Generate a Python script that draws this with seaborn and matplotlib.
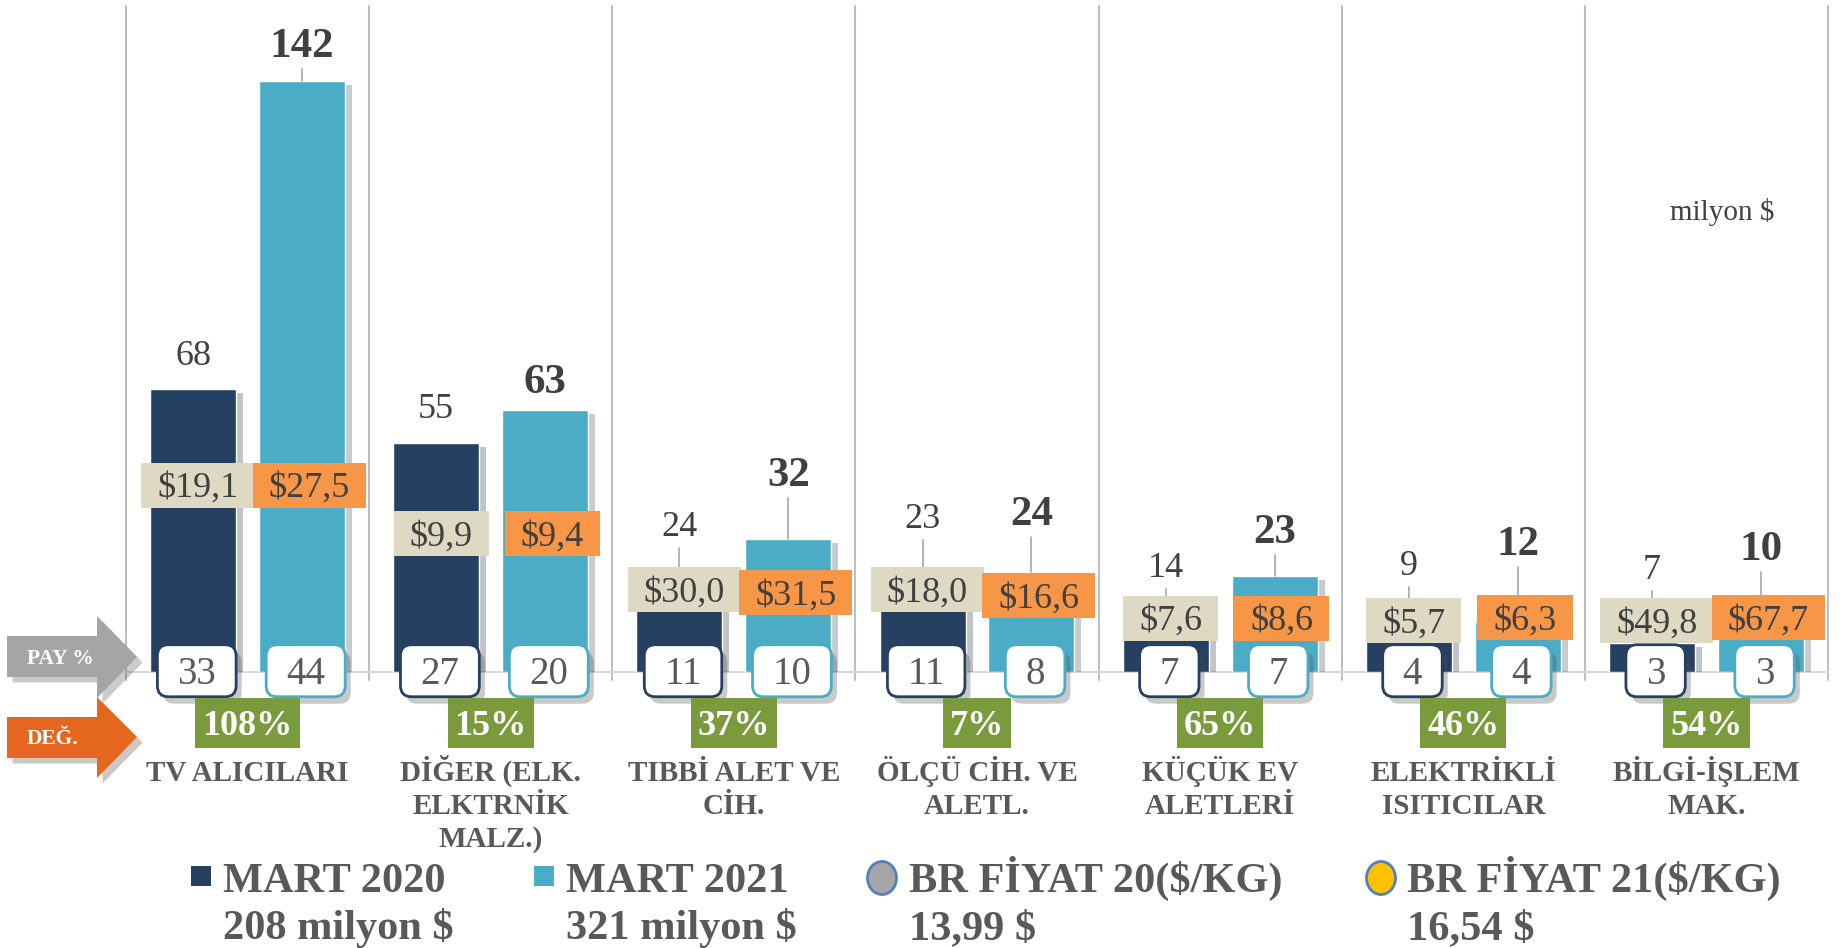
import matplotlib.pyplot as plt
import matplotlib.patheffects as pe
from matplotlib.patches import FancyBboxPatch, Rectangle, Ellipse, Polygon
import pandas as pd
import seaborn as sns

# data
categories = ["TV ALICILARI", "DİĞER (ELK.\nELKTRNİK\nMALZ.)", "TIBBİ ALET VE\nCİH.",
              "ÖLÇÜ CİH. VE\nALETL.", "KÜÇÜK EV\nALETLERİ", "ELEKTRİKLİ\nISITICILAR",
              "BİLGİ-İŞLEM\nMAK."]
mart_2020 = [68, 55, 24, 23, 14, 9, 7]
mart_2021 = [142, 63, 32, 24, 23, 12, 10]
price_2020 = [19.1, 9.9, 30.0, 18.0, 7.6, 5.7, 49.8]
price_2021 = [27.5, 9.4, 31.5, 16.6, 8.6, 6.3, 67.7]
share_2020 = [33, 27, 11, 11, 7, 4, 3]
share_2021 = [44, 20, 10, 8, 7, 4, 3]
change_pct = [108, 15, 37, 7, 65, 46, 54]
legend_names = ["MART 2020", "MART 2021", "BR FİYAT 20($/KG)", "BR FİYAT 21($/KG)"]
legend_totals = ["208 milyon $", "321 milyon $", "13,99 $", "16,54 $"]

# label placement (data units) - labels were moved by hand in the original
label_base_2020 = [73.8, 61, 32.7, 34.6, 22.8, 23.3, 22.3]
label_base_2021 = [147.8, 67, 44.7, 35.3, 31, 28.1, 26.9]
lead_2020 = [False, False, True, True, True, True, True]
lead_2021 = [True, False, True, True, True, True, True]
price_y_2020 = [44.9, 33.2, 19.7, 19.7, 12.9, 12.4, 12.4]
price_y_2021 = [44.9, 33.2, 19.0, 18.4, 12.9, 13.0, 13.0]

NAVY = "#264061"
TEAL = "#4BACC6"
BEIGE = "#DDD9C3"
ORANGE = "#F79646"
GREEN = "#7A9B3C"
TXT = "#404040"
GREY_TXT = "#595959"

sns.set_style("white")
plt.rcParams['font.family'] = ['Liberation Serif', 'DejaVu Serif']

W, H = 1841, 948
fig = plt.figure(figsize=(W / 100, H / 100), dpi=100)
ax = fig.add_axes([126 / W, (H - 672) / H, (1828 - 126) / W, 666 / H])

df = pd.DataFrame({
    'cat': categories * 2,
    'year': ['2020'] * 7 + ['2021'] * 7,
    'value': mart_2020 + mart_2021,
})
sns.barplot(data=df, x='cat', y='value', hue='year', order=categories,
            hue_order=['2020', '2021'], palette=[NAVY, TEAL], saturation=1,
            width=0.896, gap=0.21, errorbar=None, legend=False, ax=ax, zorder=2)
for p in ax.patches:
    p.set_path_effects([pe.SimplePatchShadow(offset=(5, -3), alpha=0.25), pe.Normal()])

ax.set_xlim(-0.5, 6.5)
ax.set_ylim(0, 160)
ax.set_axis_off()

# grid and baseline
for xv in [i - 0.5 for i in range(8)]:
    ax.plot([xv, xv], [-2, 160], color="#BFBFBF", lw=1.5, zorder=1, clip_on=False)
ax.plot([-0.5, 6.5], [0, 0], color="#D9D9D9", lw=1.5, zorder=1, clip_on=False)

r = fig.canvas.get_renderer()
px = ax.transData.transform((1, 0))[0] - ax.transData.transform((0, 0))[0]
py = ax.transData.transform((0, 1))[1] - ax.transData.transform((0, 0))[1]


def box_label(x, yc, s, size, tcolor, face, edge=None, lw=0, pad_px=15, h_px=48,
              weight='normal', rounded=False, z=4, shadow=False):
    em = size * 100 / 72
    t = ax.text(x, yc - 0.33 * em / py, s, ha='center', va='baseline', fontsize=size,
                fontweight=weight, color=tcolor, zorder=z + 0.1, clip_on=False)
    w = (t.get_window_extent(r).width + 2 * pad_px) / px
    h = h_px / py
    if rounded:
        box = FancyBboxPatch((x - w / 2, yc - h / 2), w, h,
                             boxstyle="round,pad=0,rounding_size=%f" % (11 / px),
                             mutation_aspect=px / py)
    else:
        box = Rectangle((x - w / 2, yc - h / 2), w, h)
    box.set(facecolor=face, edgecolor=edge if edge else face, linewidth=lw,
            zorder=z, clip_on=False)
    if shadow:
        box.set_path_effects([pe.SimplePatchShadow(offset=(4, -5), alpha=0.3), pe.Normal()])
    ax.add_patch(box)
    return box


bars20 = ax.containers[0]
bars21 = ax.containers[1]
fmt = lambda v: "$" + f"{v:.1f}".replace(".", ",")

for i in range(len(categories)):
    x0 = bars20[i].get_x() + bars20[i].get_width() / 2
    x1 = bars21[i].get_x() + bars21[i].get_width() / 2

    # value labels
    ax.text(x0, label_base_2020[i], str(mart_2020[i]), ha='center', va='baseline',
            fontsize=26, color=TXT, zorder=6)
    ax.text(x1, label_base_2021[i], str(mart_2021[i]), ha='center', va='baseline',
            fontsize=31, fontweight='bold', color=TXT, zorder=6)

    # price per kg boxes
    box_label(x0 + 0.02, price_y_2020[i], fmt(price_2020[i]), 26, TXT, BEIGE, pad_px=16, h_px=45)
    box_label(x1 + 0.03, price_y_2021[i], fmt(price_2021[i]), 26, TXT, ORANGE, pad_px=16, h_px=45)

    # leader lines
    for lead, xb, base, val, pyb in [(lead_2020[i], x0, label_base_2020[i], mart_2020[i], price_y_2020[i]),
                                     (lead_2021[i], x1, label_base_2021[i], mart_2021[i], price_y_2021[i])]:
        if lead:
            top = base - 12 / py
            end = max(val, pyb + 22.5 / py)
            if top > end:
                ax.plot([xb, xb], [top, end], color="#A6A6A6", lw=1.2, zorder=3)

    # share boxes
    box_label(x0 + 0.015, 0.3, str(share_2020[i]), 28, GREY_TXT, "white", edge=NAVY, lw=2,
              pad_px=20, h_px=52, rounded=True, z=5, shadow=True)
    box_label(x1 + 0.015, 0.3, str(share_2021[i]), 28, GREY_TXT, "white", edge=TEAL, lw=2,
              pad_px=20, h_px=52, rounded=True, z=5, shadow=True)

    # change boxes
    box_label(i, -12.25, f"{change_pct[i]}%", 26, "white", GREEN, pad_px=7, h_px=50,
              weight='bold', z=5)

    # category labels, one text per line so every baseline is even
    for k, line in enumerate(categories[i].split("\n")):
        ax.text(i, -26.2 - k * 33 / py, line, ha='center', va='baseline', fontsize=21,
                fontweight='bold', color=GREY_TXT, clip_on=False)

fx = lambda v: v / W
fy = lambda v: 1 - v / H

# side arrows
arrows = [
    ("PAY %", "#A5A5A5", 636, 677, 616, 698, 657),
    ("DEĞ.", "#E4661F", 717, 758, 697, 778, 737),
]
for label, col, b0, b1, h0, h1, tip in arrows:
    pts = [(7, b0), (97, b0), (97, h0), (137, tip), (97, h1), (97, b1), (7, b1)]
    poly = Polygon([(fx(a), fy(b)) for a, b in pts], closed=True, transform=fig.transFigure,
                   facecolor=col, edgecolor='none')
    poly.set_path_effects([pe.SimplePatchShadow(offset=(4, -4), alpha=0.25), pe.Normal()])
    fig.add_artist(poly)
    fig.text(fx(27), fy(tip + 2), label, ha='left', va='center', fontsize=15.5,
             fontweight='bold', color='white')

fig.text(fx(1670), fy(212), "milyon $", ha='left', va='center', fontsize=21, color=TXT)

# legend
fig.add_artist(Rectangle((fx(191), fy(886)), 20 / W, 20 / H, transform=fig.transFigure,
                         facecolor=NAVY, edgecolor='none'))
fig.add_artist(Rectangle((fx(534), fy(886)), 20 / W, 20 / H, transform=fig.transFigure,
                         facecolor=TEAL, edgecolor='none'))
fig.add_artist(Ellipse((fx(882), fy(878)), 29 / W, 33 / H, transform=fig.transFigure,
                       facecolor="#A6A6A6", edgecolor="#4F81BD", lw=2))
fig.add_artist(Ellipse((fx(1381), fy(878)), 29 / W, 33 / H, transform=fig.transFigure,
                       facecolor="#FFC000", edgecolor="#4F81BD", lw=2))
for xt, name, total in zip([223, 566, 909, 1407], legend_names, legend_totals):
    fig.text(fx(xt), fy(892), name, ha='left', va='baseline', fontsize=30.5,
             fontweight='bold', color=GREY_TXT)
    fig.text(fx(xt), fy(939), total, ha='left', va='baseline', fontsize=30.5,
             fontweight='bold', color=GREY_TXT)

fig.savefig("out.png", dpi=100)
